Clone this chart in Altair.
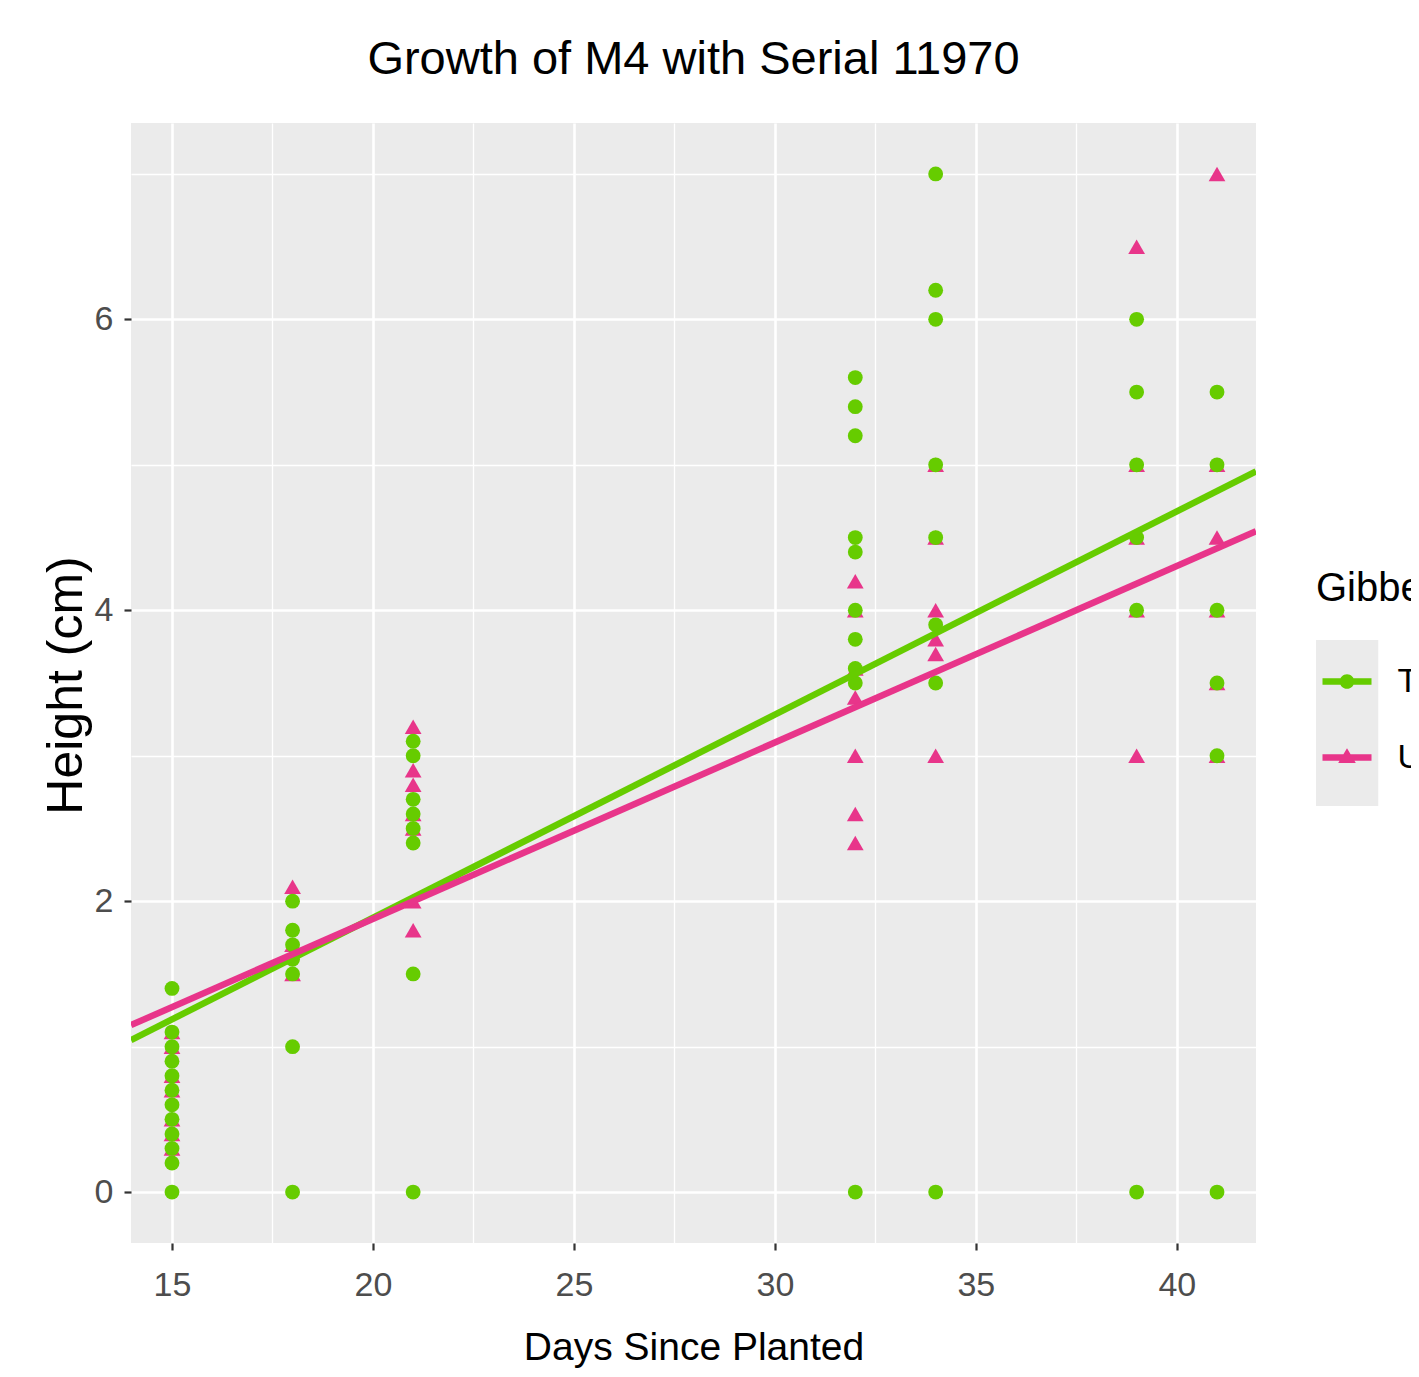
import altair as alt
import pandas as pd

FONT = "Liberation Sans, Arial, sans-serif"

title_text = "Growth of M4 with Serial 11970"
x_title = "Days Since Planted"
y_title = "Height (cm)"
legend_title = "Gibberellic Acid"
groups = ["Treated", "Untreated"]
colors = ["#66CC00", "#E8358A"]

days = [15, 18, 21, 32, 34, 39, 41]
treated_heights = [
    [1.4, 1.1, 1.0, 0.9, 0.8, 0.7, 0.6, 0.5, 0.4, 0.3, 0.2, 0.0],
    [2.0, 1.8, 1.7, 1.6, 1.5, 1.0, 0.0],
    [3.1, 3.0, 2.7, 2.6, 2.5, 2.4, 1.5, 0.0],
    [5.6, 5.4, 5.2, 4.5, 4.4, 4.0, 3.8, 3.6, 3.5, 0.0],
    [7.0, 6.2, 6.0, 5.0, 4.5, 3.9, 3.5, 0.0],
    [6.0, 5.5, 5.0, 4.5, 4.0, 0.0],
    [5.5, 5.0, 4.0, 3.5, 3.0, 0.0],
]
untreated_heights = [
    [1.1, 1.0, 0.8, 0.7, 0.5, 0.4, 0.3],
    [2.1, 1.7, 1.5],
    [3.2, 2.9, 2.8, 2.6, 2.5, 2.0, 1.8],
    [4.2, 4.0, 3.6, 3.4, 3.0, 2.6, 2.4],
    [5.0, 4.5, 4.0, 3.8, 3.7, 3.0],
    [6.5, 5.0, 4.5, 4.0, 3.0],
    [7.0, 5.0, 4.5, 4.0, 3.5, 3.0],
]

# fitted regression lines (ends of the plotted range)
fit_days = [13.98, 41.97]
treated_fit = [1.045, 4.955]
untreated_fit = [1.148, 4.543]

x_domain = [13.98, 41.97]
y_domain = [-0.35, 7.35]
x_ticks = [15, 17.5, 20, 22.5, 25, 27.5, 30, 32.5, 35, 37.5, 40]
y_ticks = [0, 1, 2, 3, 4, 5, 6, 7]

rows = []
for d, hs in zip(days, treated_heights):
    for h in hs:
        rows.append({"day": d, "height": h, "group": groups[0]})
for d, hs in zip(days, untreated_heights):
    for h in hs:
        rows.append({"day": d, "height": h, "group": groups[1]})
df = pd.DataFrame(rows)
df_t = df[df.group == groups[0]]
df_u = df[df.group == groups[1]]

fit_t = pd.DataFrame({"day": fit_days, "height": treated_fit})
fit_u = pd.DataFrame({"day": fit_days, "height": untreated_fit})

x_axis = alt.Axis(
    values=x_ticks,
    labelExpr="datum.value % 5 === 0 ? datum.label : ''",
    gridColor="white",
    gridWidth={"condition": {"test": "datum.value % 5 !== 0", "value": 1.3}, "value": 2.6},
    tickOpacity={"condition": {"test": "datum.value % 5 !== 0", "value": 0}, "value": 1},
    tickSize=7, tickWidth=2.2, tickColor="#333333",
    labelColor="#4D4D4D", labelFont=FONT, labelFontSize=34, labelPadding=18,
    labelFlush=False, labelOverlap=False,
    domain=False,
    titleFont=FONT, titleFontSize=39, titleColor="black", titleFontWeight="normal",
    titleBaseline="alphabetic", titleY=116,
)
y_axis = alt.Axis(
    values=y_ticks,
    labelExpr="datum.value % 2 === 0 ? datum.label : ''",
    gridColor="white",
    gridWidth={"condition": {"test": "datum.value % 2 !== 0", "value": 1.3}, "value": 2.6},
    tickOpacity={"condition": {"test": "datum.value % 2 !== 0", "value": 0}, "value": 1},
    tickSize=7, tickWidth=2.2, tickColor="#333333",
    labelColor="#4D4D4D", labelFont=FONT, labelFontSize=34, labelPadding=11,
    labelFlush=False, labelOverlap=False,
    domain=False,
    titleFont=FONT, titleFontSize=50, titleColor="black", titleFontWeight="normal",
    titleBaseline="alphabetic", titleAngle=270, titleX=-50, titleY=562,
)

X = alt.X("day:Q", title=x_title, axis=x_axis,
          scale=alt.Scale(domain=x_domain, nice=False, zero=False))
Y = alt.Y("height:Q", title=y_title, axis=y_axis,
          scale=alt.Scale(domain=y_domain, nice=False, zero=False))

pink_pts = alt.Chart(df_u).mark_point(
    shape="triangle-up", filled=True, size=280, color=colors[1], opacity=1
).encode(x=X, y=Y)
green_pts = alt.Chart(df_t).mark_point(
    shape="circle", filled=True, size=220, color=colors[0], opacity=1
).encode(x=X, y=Y)
green_line = alt.Chart(fit_t).mark_line(color=colors[0], strokeWidth=6.5, clip=True).encode(x=X, y=Y)
pink_line = alt.Chart(fit_u).mark_line(color=colors[1], strokeWidth=6.5, clip=True).encode(x=X, y=Y)

# legend: grey key background (left-aligned with the legend title)
box_path = "M-1,-1 L0.5,-1 L0.5,1 L-1,1 Z"
legend_box = alt.Chart(df).mark_point(opacity=0, filled=True, color="#EBEBEB").encode(
    x=X, y=Y,
    size=alt.Size("group:N", scale=alt.Scale(domain=groups, range=[6889, 6889]),
                  legend=alt.Legend(
                      orient="none", legendX=1185, legendY=446,
                      title=legend_title, titleFont=FONT, titleFontSize=40,
                      titleColor="black", titleFontWeight="normal", titlePadding=31,
                      symbolType=box_path, symbolStrokeWidth=0, symbolOpacity=1,
                      symbolFillColor="#EBEBEB",
                      labelExpr="''", labelOffset=0, rowPadding=0, padding=0,
                  )),
)

# legend: coloured keys (line + marker)
circle_key = ("M-1,-0.13 L1,-0.13 L1,0.13 L-1,0.13 Z "
              "M-0.3,0 A0.3,0.3 0 1,1 0.3,0 A0.3,0.3 0 1,1 -0.3,0 Z")
tri_key = ("M-1,-0.13 L1,-0.13 L1,0.13 L-1,0.13 Z "
           "M0,-0.38 L0.36,0.22 L-0.36,0.22 Z")
key_legend = alt.Legend(
    orient="none", legendX=1191.5, legendY=534, title=None,
    symbolSize=2401, symbolStrokeWidth=0, symbolOpacity=1,
    labelFont=FONT, labelFontSize=34, labelColor="black", labelOffset=26,
    rowPadding=34, padding=0,
)
legend_keys = alt.Chart(df).mark_point(opacity=0, filled=True).encode(
    x=X, y=Y,
    color=alt.Color("group:N", scale=alt.Scale(domain=groups, range=colors), legend=key_legend),
    shape=alt.Shape("group:N", scale=alt.Scale(domain=groups, range=[circle_key, tri_key]),
                    legend=key_legend),
)

chart = alt.layer(
    legend_box, legend_keys, pink_pts, green_pts, green_line, pink_line
).resolve_legend(
    size="independent", color="independent", shape="independent"
).properties(
    width=1125, height=1120,
    title=alt.TitleParams(text=title_text, anchor="middle", frame="group", font=FONT,
                          fontSize=47, fontWeight="normal", color="black",
                          baseline="alphabetic", offset=2),
    autosize=alt.AutoSizeParams(type="none"),
    padding={"left": 123, "top": 115, "right": 155, "bottom": 126},
).configure_view(fill="#EBEBEB", strokeWidth=0)

chart.save("out.html", embed_options={"renderer": "svg", "actions": False})
